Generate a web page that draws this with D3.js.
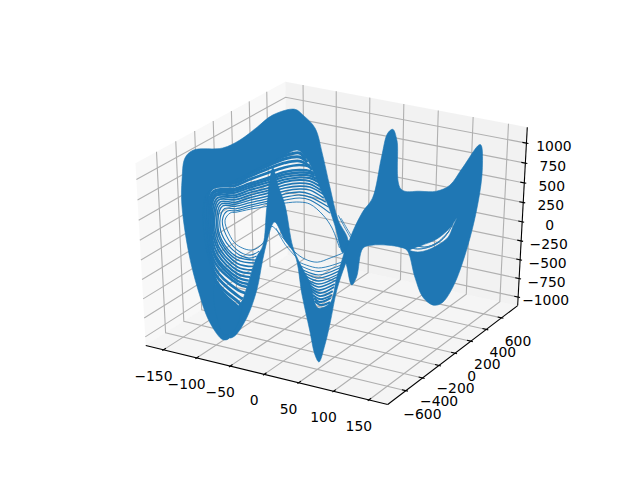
<!DOCTYPE html>
<html><head><meta charset="utf-8"><style>html,body{margin:0;background:#fff}svg{display:block}</style>
<script src="https://cdn.jsdelivr.net/npm/d3@7"></script></head><body><script>
const xTicks=[-150,-100,-50,0,50,100,150], yTicks=[-600,-400,-200,0,200,400,600], zTicks=[-1000,-750,-500,-250,0,250,500,750,1000];
const xDomain=[-169.9,169.3], yDomain=[-781,784], zDomain=[-1069,1151];
const upperBandX=[-173,-193,-210,-223,-230,-228,-222,-209,-164,-138,-112,-89,-57,-45,-28,-18,-7,5,19,12,0,-10,-19,-29,-39,-53,-72,-97,-124,-147,-178,-192,-198,-192,-180,-172,-163];
const upperBandZ=[-1677,-1482,-1063,-549,62,363,656,778,882,1025,1228,1413,1536,1483,1355,1067,666,272,45,-136,200,436,583,778,945,1044,951,808,647,506,363,234,-142,-582,-1003,-1356,-1630];
const spikeBandX=[-90,-83,-73,-62,-52,-37,-27,-22,-7,3,12,19,24,15,3,-7,-15,-24,-30,-38,-49,-59,-74,-88,-91,-99,-108,-118,-134,-154,-163,-161,-150,-133,-117,-107,-100];
const spikeBandZ=[758,556,321,-200,-390,-625,-924,-929,-831,-466,-188,45,-76,-287,-638,-1099,-1414,-1667,-1583,-1256,-808,-300,-131,74,56,-141,-459,-879,-1279,-1581,-1630,-1514,-1311,-869,-436,-261,246];
const valleyBandX=[-183,-166,-148,-140,-154,-170,-184];
const valleyBandZ=[-941,-1057,-1156,-1058,-1497,-1600,-1284];
const rightBandX=[23,40,54,66,74,81,87,94,120,143,161,177,200,204,200,187,170,155,143,128,116,104,94,77,54,41,32,25,18,15];
const rightBandZ=[91,439,639,1163,1462,1522,1401,820,842,884,988,1220,1541,1278,840,238,-263,-501,-552,-477,-243,78,97,89,46,-17,-408,-527,-307,-183];
const lensX=[108,125,143,156,166,172,167,161,147,133,119];
const lensZ=[86,181,279,391,508,607,486,350,224,135,83];
// Individually visible traces, [x, z]
const loopTraces=[
[[7,-80],[-4,155],[-17,295],[-36,400],[-51,399],[-73,346],[-98,261],[-125,173],[-147,93],[-156,66],[-164,-41],[-159,-201],[-147,-333],[-124,-358],[-107,-234],[-95,11],[-74,-131],[-59,-260],[-44,-323],[-26,-328],[-7,-238],[12,-136]],
[[-7,339],[-36,451],[-51,450],[-73,384],[-98,300],[-125,199],[-147,112],[-160,85],[-168,-48],[-163,-235],[-147,-399],[-127,-431],[-113,-351]],
[[-9,412],[-36,489],[-51,488],[-73,422],[-98,326],[-125,225],[-147,138],[-164,110],[-172,-69],[-167,-282],[-147,-446],[-129,-474],[-117,-423]],
[[-13,468],[-36,527],[-51,526],[-73,461],[-98,358],[-125,257],[-147,171],[-167,138],[-175,-74],[-170,-313],[-147,-493],[-118,-479]],
[[-16,512],[-36,577],[-51,563],[-73,499],[-98,390],[-125,290],[-147,197],[-169,160],[-177,-90],[-171,-343],[-147,-533],[-120,-522]],
[[-17,561],[-36,615],[-51,601],[-73,537],[-98,428],[-125,322],[-147,223],[-171,181],[-180,-94],[-173,-373],[-147,-580],[-122,-572]],
[[-20,605],[-36,652],[-51,639],[-73,575],[-98,460],[-125,354],[-147,255],[-173,203],[-182,-113],[-175,-415],[-147,-627],[-124,-623]],
[[-22,652],[-36,690],[-51,677],[-73,613],[-98,492],[-125,386],[-147,287],[-175,224],[-184,-130],[-176,-459],[-147,-674],[-126,-674]],
[[-24,698],[-36,727],[-51,708],[-73,644],[-98,530],[-125,418],[-147,313],[-177,248],[-186,-133],[-178,-502],[-147,-721],[-128,-725]],
[[-26,732],[-36,758],[-51,739],[-73,676],[-98,562],[-125,450],[-147,346],[-178,265],[-187,-149],[-180,-546],[-147,-768],[-130,-776]],
[[-29,766],[-36,790],[-51,770],[-73,707],[-98,593],[-125,476],[-147,371],[-180,282],[-189,-152],[-180,-586],[-147,-815],[-131,-825]],
[[-30,787],[-36,815],[-51,802],[-73,738],[-98,619],[-125,501],[-147,397],[-181,298],[-191,-169],[-182,-629],[-147,-856],[-133,-869]],
[[-33,832],[-36,864],[-51,864],[-73,795],[-98,682],[-125,552],[-147,436],[-183,328],[-192,-184],[-182,-710],[-147,-938],[-136,-957]],
[[-36,877],[-51,913],[-73,851],[-98,732],[-125,590],[-147,468],[-184,352],[-194,-200],[-182,-791],[-147,-1020],[-140,-1044]],
[[-39,920],[-51,963],[-73,901],[-98,770],[-125,622],[-147,487],[-185,368],[-195,-203],[-181,-883],[-147,-1102],[-143,-1133]],
[[-42,954],[-51,1013],[-73,938],[-98,795],[-125,648],[-147,500],[-187,378],[-197,-220],[-178,-958],[-147,-1184],[-146,-1221]]];
const valleyTraces=[
[[-53,-381],[-24,-400],[10,-257]],[[-50,-427],[-24,-446],[9,-298]],[[-47,-473],[-24,-492],[7,-340]],[[-44,-508],[-24,-532],[6,-382]],
[[-43,-544],[-24,-571],[5,-425]],[[-42,-581],[-24,-611],[3,-466]],[[-39,-614],[-24,-650],[2,-509]],[[-37,-652],[-24,-691],[0,-564]],
[[-36,-688],[-22,-728],[-1,-606]],[[-34,-726],[-22,-768],[-3,-663]],[[-33,-776],[-22,-808],[-4,-718]],[[-31,-812],[-22,-848],[-6,-760]],[[-30,-849],[-21,-885],[-7,-818]]];
const strayTraces=[
[[-87,0],[-74,-184],[-56,-333]],[[5,335],[15,189],[25,56]],[[9,305],[19,172],[28,61]],
[[101,124],[119,121],[139,197],[155,327],[167,523]],[[111,167],[129,165],[147,261],[162,426]]];

const sx=d3.scaleLinear(xDomain,[0,1]), sy=d3.scaleLinear(yDomain,[0,1]), sz=d3.scaleLinear(zDomain,[0,1]);
const vx=d3.scaleLinear([-.095,.09],[80,576]), vy=d3.scaleLinear([-.095,.09],[427.2,57.6]);
const W=[.4330127,-.75,.5],U=[.8660254,.5,0],V=[-.25,.4330127,.8660254];
function proj(a,b,c){const p=[a-.5,b-.5,c-.5];const d=(q)=>q[0]*p[0]+q[1]*p[1]+q[2]*p[2];const D=10-d(W);return [vx(d(U)/D),vy(d(V)/D)];}
const lo=-1/48,hi=1+1/48;
const svg=d3.select('body').append('svg').attr('width',640).attr('height',480);
const path=pts=>d3.line()(pts.map(p=>proj(...p)));
[[[lo,lo,lo],[lo,hi,lo],[lo,hi,hi],[lo,lo,hi],'rgba(242,242,242,.5)'],
 [[lo,hi,lo],[hi,hi,lo],[hi,hi,hi],[lo,hi,hi],'rgba(230,230,230,.5)'],
 [[lo,lo,lo],[hi,lo,lo],[hi,hi,lo],[lo,hi,lo],'rgba(236,236,236,.5)']].forEach(q=>svg.append('path').attr('d',path(q.slice(0,4))+'Z').attr('fill',q[4]));
const grid=(pts)=>svg.append('path').attr('d',path(pts)).attr('fill','none').attr('stroke','#b0b0b0').attr('stroke-width',1.1);
xTicks.forEach(t=>{const a=sx(t);grid([[a,lo,lo],[a,hi,lo],[a,hi,hi]])});
yTicks.forEach(t=>{const b=sy(t);grid([[hi,b,lo],[lo,b,lo],[lo,b,hi]])});
zTicks.forEach(t=>{const c=sz(t);grid([[lo,lo,c],[lo,hi,c],[hi,hi,c]])});
const ink=(pts)=>svg.append('path').attr('d',path(pts)).attr('fill','none').attr('stroke','#000').attr('stroke-width',1.1);
ink([[lo,lo,lo],[hi,lo,lo]]);ink([[hi,lo,lo],[hi,hi,lo]]);ink([[hi,hi,lo],[hi,hi,hi]]);
const label=(t,x,y)=>svg.append('text').attr('x',x).attr('y',y).attr('text-anchor','middle').attr('dominant-baseline','central').attr('font-family','DejaVu Sans').attr('font-size',13.9).text(String(t).replace('-','\u2212'));
xTicks.forEach(t=>{const a=sx(t);ink([[a,lo-.0083,lo],[a,lo+.0167,lo]]);const p=proj(a,lo,lo);label(t,p[0]-10,p[1]+26)});
yTicks.forEach(t=>{const b=sy(t);ink([[hi+.0083,b,lo],[hi-.0167,b,lo]]);const p=proj(hi,b,lo);label(t,p[0]+16.5,p[1]+23)});
zTicks.forEach(t=>{const c=sz(t);ink([[hi+.0083,hi,c],[hi-.0167,hi,c]]);const p=proj(hi,hi,c);label(t,p[0]+27.5,p[1]+3)});
// traces
const y0=sy(0);
const toScreen=(x,z)=>proj(sx(x),y0,sz(z));
const blue='#1f77b4';
const g=svg.append('g');
const smooth=d3.line().curve(d3.curveCatmullRom.alpha(.5));
const traceD=t=>smooth(t.map(p=>toScreen(p[0],p[1])));
g.selectAll('path.loop').data(loopTraces).join('path').attr('class','loop').attr('d',traceD)
 .attr('fill','none').attr('stroke',blue).attr('stroke-width',(t,i)=>.9+i*.15);
g.selectAll('path.valley').data(valleyTraces).join('path').attr('class','valley').attr('d',traceD)
 .attr('fill','none').attr('stroke',blue).attr('stroke-width',(t,i)=>.9+i*.11);
g.selectAll('path.stray').data(strayTraces).join('path').attr('class','stray').attr('d',traceD)
 .attr('fill','none').attr('stroke',blue).attr('stroke-width',.8);
const closed=d3.line().curve(d3.curveCatmullRomClosed.alpha(.5));
const ring=(xs,zs)=>closed(xs.map((x,i)=>toScreen(x,zs[i])));
[ring(upperBandX,upperBandZ),ring(spikeBandX,spikeBandZ),ring(valleyBandX,valleyBandZ),ring(rightBandX,rightBandZ)+ring(lensX,lensZ)].forEach(d=>
 g.append('path').attr('d',d).attr('fill',blue).attr('fill-rule','evenodd').attr('stroke',blue).attr('stroke-width',.6).attr('stroke-linejoin','round'));
g.selectAll('path.over').data(strayTraces.slice(3)).join('path').attr('class','over').attr('d',traceD)
 .attr('fill','none').attr('stroke',blue).attr('stroke-width',.7);
</script></body></html>
